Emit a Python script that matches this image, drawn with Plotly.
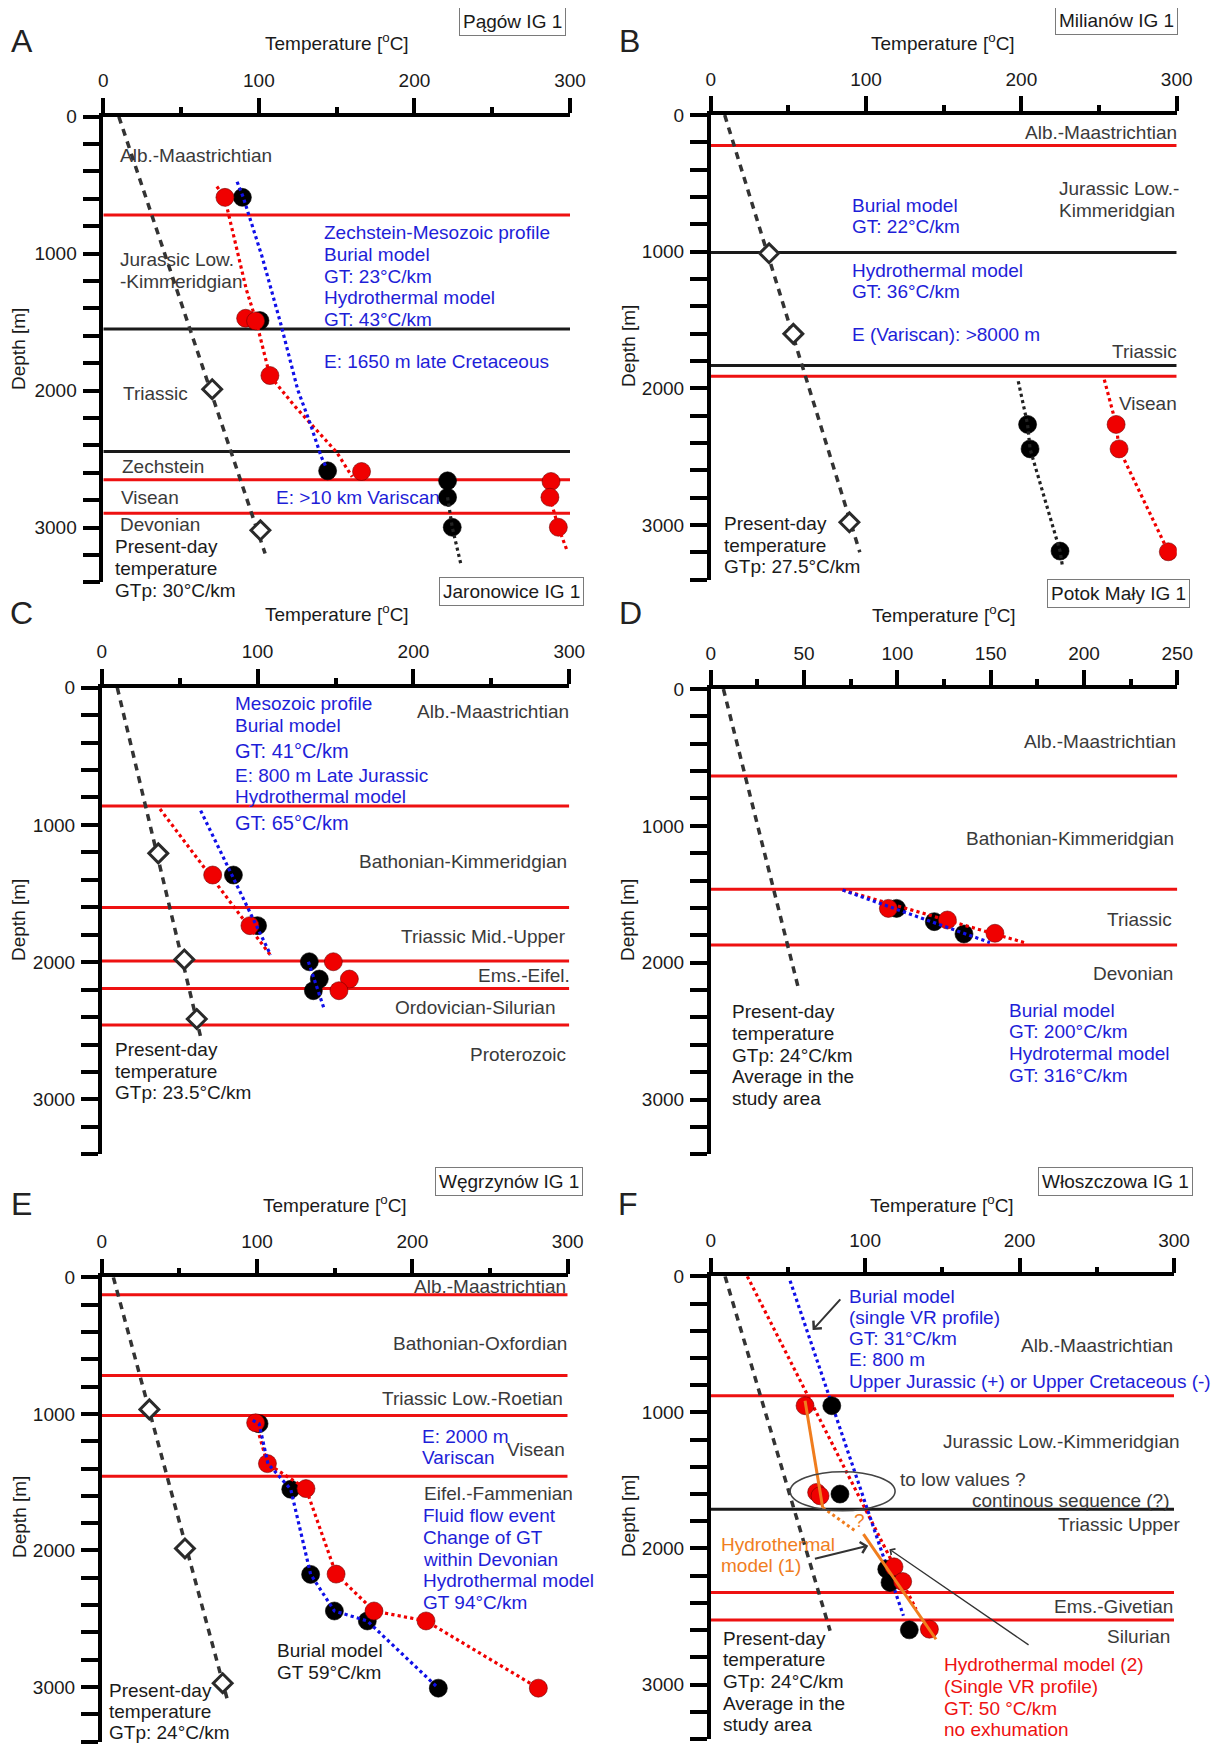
import plotly.graph_objects as go

# Page body has an 8px default margin: the figure is sized/shifted to fill the 1221x1744 window.
OFF = 8
W, H = 1221 - OFF, 1744 - OFF
FONT = "Liberation Sans, Arial, sans-serif"
GREY = "#3a3a3a"
BLACKT = "#1a1a1a"
BLUE = "#1e1ed8"
RED = "#ee1111"
ORANGE = "#f07d1e"
DOTRED = "#f00000"

# ---------------- data (temperature [°C], depth [m]) ----------------
# Panel A - Pągów IG 1
A_pd_T = [10, 104];  A_pd_D = [0, 3190]
A_diam_T = [70, 101]; A_diam_D = [1990, 3020]
A_red_bounds = [718, 2652, 2895]
A_black_bounds = [1550, 2445]
A_bur_T = [89.4, 100.7, 144.2, 221.3, 221.3, 224.3]
A_bur_D = [589, 1489, 2586, 2659, 2779, 2998]
A_hyd_T = [78.2, 91.5, 97.9, 107.1, 166, 287.8, 287.1, 292.5]
A_hyd_D = [589, 1472, 1491, 1890, 2591, 2664, 2779, 2998]
A_blue_T = [86, 90, 102, 114, 125, 133, 140, 143]
A_blue_D = [475, 590, 1020, 1510, 1995, 2240, 2480, 2555]
A_redl_T = [73, 78, 92, 98, 107, 122, 135, 150, 160]
A_redl_D = [510, 590, 1265, 1480, 1890, 2100, 2263, 2450, 2630]
A_deepk_T = [221.3, 224.3, 229.7]; A_deepk_D = [2779, 2998, 3260]
A_deepr_T = [287.1, 292.5, 298];   A_deepr_D = [2779, 2998, 3165]

# Panel B - Milianów IG 1
B_pd_T = [9, 96]; B_pd_D = [0, 3200]
B_diam_T = [37.6, 53.2, 89.3]; B_diam_D = [1012, 1602, 2981]
B_red_bounds = [223, 1913]
B_black_bounds = [1007, 1833]
B_bur_T = [204, 205.6, 224.9]; B_bur_D = [2265, 2444, 3192]
B_hyd_T = [261, 262.9, 294.6]; B_hyd_D = [2265, 2444, 3197]
B_kl_T = [198, 204, 205.6, 224.9, 226.6]; B_kl_D = [1949, 2265, 2444, 3192, 3313]
B_rl_T = [253.4, 261, 262.9, 294.6]; B_rl_D = [1937, 2265, 2444, 3197]

# Panel C - Jaronowice IG 1
C_pd_T = [10, 64]; C_pd_D = [0, 2570]
C_diam_T = [36.3, 53, 61]; C_diam_D = [1207, 1980, 2414]
C_red_bounds = [862, 1601, 1992, 2191, 2458]
C_bur_T = [84.5, 100, 133.2, 139.6, 135.8]; C_bur_D = [1365, 1734, 1997, 2123, 2208]
C_hyd_T = [71.2, 95.1, 148.6, 158.9, 152.2]; C_hyd_D = [1365, 1734, 1997, 2123, 2208]
C_blue1_T = [63.5, 108.4]; C_blue1_D = [896, 1948]
C_blue2_T = [132.6, 142.6]; C_blue2_D = [1997, 2337]
C_redl_T = [37.4, 109]; C_redl_D = [884, 1960]

# Panel D - Potok Mały IG 1
D_pd_T = [6.8, 47]; D_pd_D = [0, 2187]
D_red_bounds = [636, 1464, 1870]
D_bur_T = [99.6, 119.8, 135.7]; D_bur_D = [1603, 1700, 1790]
D_hyd_T = [95.2, 126.8, 152.3]; D_hyd_D = [1603, 1688, 1785]
D_blue_T = [70.7, 149.6]; D_blue_D = [1469, 1853]
D_redl_T = [70.7, 169.3]; D_redl_D = [1469, 1858]

# Panel E - Węgrzynów IG 1
E_pd_T = [7.5, 81.5]; E_pd_D = [0, 3118]
E_diam_T = [30.7, 53.6, 77.9]; E_diam_D = [967, 1985, 2972]
E_red_bounds = [127, 719, 1011, 1457]
E_bur_T = [101.3, 121.7, 134.5, 149.8, 171, 216.7]
E_bur_D = [1072, 1552, 2175, 2443, 2516, 3008]
E_hyd_T = [99.1, 106.7, 131.5, 150.9, 175.3, 208.8, 281.1]
E_hyd_D = [1065, 1364, 1547, 2173, 2443, 2516, 3008]
E_blue_T = [97.2, 101.3, 107, 121.7, 134.5, 149.8, 171, 216.7]
E_blue_D = [1048, 1072, 1364, 1552, 2175, 2443, 2516, 3008]

# Panel F - Włoszczowa IG 1
F_pd_T = [9.3, 77.3]; F_pd_D = [0, 2605]
F_red_bounds = [877, 2324, 2525]
F_black_bounds = [1711]
F_bur_T = [78.4, 83.7, 114, 116.1, 128.6]; F_bur_D = [951, 1600, 2152, 2250, 2598]
F_hyd_T = [61.1, 68.6, 70.8, 118.7, 124.3, 141.6]; F_hyd_D = [951, 1588, 1613, 2135, 2243, 2593]
F_blue_T = [51.4, 124.8]; F_blue_D = [32, 2495]
F_redl_T = [23.7, 133]; F_redl_D = [0, 2446]
F_or1_T = [61.1, 72.5]; F_or1_D = [914, 1699]
F_ordot_T = [72.5, 93.5]; F_ordot_D = [1699, 1870]
F_or2_T = [98.9, 145.9]; F_or2_D = [1895, 2667]
F_ellipse_T = [51.4, 119.4]; F_ellipse_D = [1436, 1723]

# ---------------- geometry (window pixels) ----------------
GEOM = {
    1: (103.3, 570.0, 116.7, 582.3, 300),
    2: (710.7, 1176.7, 115.0, 579.5, 300),
    3: (101.7, 569.3, 687.7, 1154.3, 300),
    4: (710.7, 1177.3, 689.0, 1154.3, 250),
    5: (101.7, 567.7, 1277.3, 1741.7, 300),
    6: (710.7, 1174.0, 1276.3, 1739.0, 300),
}
DMAX = 3400


def px(x):
    return (x - OFF) / W


def py(y):
    return 1 - (y - OFF) / H


fig = go.Figure()
layout = dict(width=W, height=H, margin=dict(l=0, r=0, t=0, b=0, pad=0, autoexpand=False),
              paper_bgcolor="white", plot_bgcolor="white", showlegend=False)

for i, (xl, xr, yt, yb, tmax) in GEOM.items():
    sfx = "" if i == 1 else str(i)
    major = 50 if tmax == 250 else 100
    layout["xaxis" + sfx] = dict(
        domain=[px(xl), px(xr)], range=[0, tmax], side="top", anchor="y" + sfx,
        showline=True, linecolor="black", linewidth=3.5,
        ticks="outside", ticklen=15, tickwidth=3.5, tickcolor="black",
        tick0=0, dtick=major, ticklabelstandoff=3,
        minor=dict(dtick=major / 2, ticklen=6, tickwidth=3.5, tickcolor="black",
                   ticks="outside", showgrid=False),
        showgrid=False, zeroline=False, fixedrange=True, automargin=False,
        tickfont=dict(family=FONT, size=19, color=BLACKT))
    layout["yaxis" + sfx] = dict(
        domain=[py(yb), py(yt)], range=[DMAX, 0], anchor="x" + sfx,
        showline=True, linecolor="black", linewidth=3.5,
        ticks="outside", ticklen=17, tickwidth=3.5, tickcolor="black",
        tick0=0, dtick=1000, ticklabelstandoff=2,
        minor=dict(dtick=200, ticklen=17, tickwidth=3.5, tickcolor="black",
                   ticks="outside", showgrid=False),
        showgrid=False, zeroline=False, fixedrange=True, automargin=False,
        tickfont=dict(family=FONT, size=19, color=BLACKT))


def ax(i):
    return ("x" if i == 1 else "x%d" % i), ("y" if i == 1 else "y%d" % i)


def add_line(i, T, D, color, width, dash="solid"):
    xa, ya = ax(i)
    fig.add_trace(go.Scatter(x=T, y=D, xaxis=xa, yaxis=ya, mode="lines",
                             line=dict(color=color, width=width, dash=dash),
                             hoverinfo="skip", showlegend=False))


def add_bounds(i, depths, color):
    tmax = GEOM[i][4]
    for d in depths:
        add_line(i, [0, tmax], [d, d], color, 3)


def add_dots(i, T, D, color):
    xa, ya = ax(i)
    fig.add_trace(go.Scatter(x=T, y=D, xaxis=xa, yaxis=ya, mode="markers",
                             marker=dict(size=18, color=color,
                                         line=dict(width=0.6, color="#700000" if color != "black" else "black")),
                             hoverinfo="skip", showlegend=False))


def add_pd(i, T, D, dT=None, dD=None):
    add_line(i, T, D, "#333333", 3.5, "7px,6px")
    if dT:
        xa, ya = ax(i)
        fig.add_trace(go.Scatter(x=dT, y=dD, xaxis=xa, yaxis=ya, mode="markers",
                                 marker=dict(symbol="diamond", size=14.5, color="white",
                                             line=dict(width=3, color="#2a2a2a")),
                                 hoverinfo="skip", showlegend=False))


# Panel A
add_bounds(1, A_red_bounds, RED)
add_bounds(1, A_black_bounds, "#1a1a1a")
add_pd(1, A_pd_T, A_pd_D, A_diam_T, A_diam_D)
add_dots(1, A_bur_T, A_bur_D, "black")
add_dots(1, A_hyd_T, A_hyd_D, DOTRED)
add_line(1, A_redl_T, A_redl_D, DOTRED, 3.2, "dot")
add_line(1, A_blue_T, A_blue_D, "#1010e8", 3.2, "dot")
add_line(1, A_deepk_T, A_deepk_D, "#222222", 3.2, "dot")
add_line(1, A_deepr_T, A_deepr_D, DOTRED, 3.2, "dot")

# Panel B
add_bounds(2, B_red_bounds, RED)
add_bounds(2, B_black_bounds, "#1a1a1a")
add_pd(2, B_pd_T, B_pd_D, B_diam_T, B_diam_D)
add_dots(2, B_bur_T, B_bur_D, "black")
add_dots(2, B_hyd_T, B_hyd_D, DOTRED)
add_line(2, B_kl_T, B_kl_D, "#222222", 3.2, "dot")
add_line(2, B_rl_T, B_rl_D, DOTRED, 3.2, "dot")

# Panel C
add_bounds(3, C_red_bounds, RED)
add_pd(3, C_pd_T, C_pd_D, C_diam_T, C_diam_D)
add_dots(3, C_bur_T, C_bur_D, "black")
add_dots(3, C_hyd_T, C_hyd_D, DOTRED)
add_line(3, C_redl_T, C_redl_D, DOTRED, 3.2, "dot")
add_line(3, C_blue1_T, C_blue1_D, "#1010e8", 3.2, "dot")
add_line(3, C_blue2_T, C_blue2_D, "#1010e8", 3.2, "dot")

# Panel D
add_bounds(4, D_red_bounds, RED)
add_pd(4, D_pd_T, D_pd_D)
add_dots(4, D_bur_T, D_bur_D, "black")
add_dots(4, D_hyd_T, D_hyd_D, DOTRED)
add_line(4, D_redl_T, D_redl_D, DOTRED, 3.2, "dot")
add_line(4, D_blue_T, D_blue_D, "#1010e8", 3.2, "dot")

# Panel E
add_bounds(5, E_red_bounds, RED)
add_pd(5, E_pd_T, E_pd_D, E_diam_T, E_diam_D)
add_dots(5, E_bur_T, E_bur_D, "black")
add_dots(5, E_hyd_T, E_hyd_D, DOTRED)
add_line(5, E_hyd_T, E_hyd_D, DOTRED, 3.2, "dot")
add_line(5, E_blue_T, E_blue_D, "#1010e8", 3.2, "dot")

# Panel F
add_bounds(6, F_red_bounds, RED)
add_bounds(6, F_black_bounds, "#1a1a1a")
add_pd(6, F_pd_T, F_pd_D)
add_line(6, F_redl_T, F_redl_D, DOTRED, 3.2, "dot")
add_line(6, F_blue_T, F_blue_D, "#1010e8", 3.2, "dot")
add_dots(6, F_bur_T, F_bur_D, "black")
add_dots(6, F_hyd_T, F_hyd_D, DOTRED)
add_line(6, F_or1_T, F_or1_D, ORANGE, 3)
add_line(6, F_ordot_T, F_ordot_D, ORANGE, 3, "dot")
add_line(6, F_or2_T, F_or2_D, ORANGE, 3)

# ---------------- annotations ----------------
ann = []


def txt(x, y, s, anchor="left", color=GREY, size=19, **kw):
    d = dict(x=px(x), y=py(y), xref="paper", yref="paper", text=s, showarrow=False,
             xanchor=anchor, yanchor="middle", font=dict(family=FONT, size=size, color=color))
    d.update(kw)
    ann.append(d)


def block(x, y0, lines, anchor="left", color=GREY, step=21.7):
    for k, s in enumerate(lines):
        txt(x, y0 + k * step, s, anchor, color)


TEMP = "Temperature [<sup>o</sup>C]"
HEAD = [
    ("A", 22, 41, 337, 42.5, "Pągów IG 1", 512, 21, 349, 19),
    ("B", 629, 41, 943, 42, "Milianów IG 1", 1116, 20.5, 346, 628),
    ("C", 21, 613, 337, 612.5, "Jaronowice IG 1", 511, 591.5, 920, 19),
    ("D", 630, 613, 944, 614, "Potok Mały IG 1", 1118, 593, 920, 628),
    ("E", 21, 1204, 335, 1204, "Węgrzynów IG 1", 509, 1181, 1517, 19),
    ("F", 628, 1204, 942, 1204, "Włoszczowa IG 1", 1115, 1181, 1516, 628),
]
for L, lx, ly, tx, ty, well, wx, wy, dy, dx in HEAD:
    txt(lx, ly, L, "center", "#222222", 32)
    txt(tx, ty, TEMP, "center", BLACKT)
    txt(wx, wy, well, "center", BLACKT, bordercolor="#7a7a7a", borderwidth=1, borderpad=3)
    txt(dx, dy, "Depth [m]", "center", BLACKT, textangle=-90)

# A
txt(117.7, 155, "Alb.-Maastrichtian")
block(117.7, 260, ["Jurassic Low.", "-Kimmeridgian"])
txt(120.7, 393, "Triassic")
txt(120, 466.7, "Zechstein")
txt(119.3, 497.3, "Visean")
txt(117.7, 524.3, "Devonian")
block(113.3, 546.7, ["Present-day", "temperature", "GTp: 30°C/km"], color=BLACKT)
block(321.7, 232.7, ["Zechstein-Mesozoic profile", "Burial model", "GT: 23°C/km",
                     "Hydrothermal model", "GT: 43°C/km"], color=BLUE)
txt(321.7, 361.7, "E: 1650 m late Cretaceous", color=BLUE)
txt(274.3, 497.3, "E: >10 km Variscan", color=BLUE)

# B
txt(1179.3, 132.7, "Alb.-Maastrichtian", "right")
block(1056.7, 188.3, ["Jurassic Low.-", "Kimmeridgian"])
block(850, 205.7, ["Burial model", "GT: 22°C/km"], color=BLUE, step=21)
block(850, 270, ["Hydrothermal model", "GT: 36°C/km"], color=BLUE, step=21)
txt(850, 335, "E (Variscan): >8000 m", color=BLUE)
txt(1178.7, 351.7, "Triassic", "right")
txt(1179.3, 403.3, "Visean", "right")
block(721.7, 523.3, ["Present-day", "temperature", "GTp: 27.5°C/km"], color=BLACKT)

# C
block(233.3, 703.3, ["Mesozoic profile", "Burial model"], color=BLUE)
txt(233.3, 750.7, "GT: 41°C/km", color=BLUE, size=20)
txt(233.3, 775, "E: 800 m Late Jurassic", color=BLUE)
txt(233.3, 796.7, "Hydrothermal model", color=BLUE)
txt(233.3, 823.3, "GT: 65°C/km", color=BLUE, size=20)
txt(571, 711, "Alb.-Maastrichtian", "right")
txt(569, 861, "Bathonian-Kimmeridgian", "right")
txt(568.3, 936, "Triassic Mid.-Upper", "right")
txt(571.7, 975, "Ems.-Eifel.", "right")
txt(558.3, 1007.7, "Ordovician-Silurian", "right")
txt(567.7, 1054.3, "Proterozoic", "right")
block(113.3, 1049.3, ["Present-day", "temperature", "GTp: 23.5°C/km"], color=BLACKT)

# D
txt(1178.3, 741, "Alb.-Maastrichtian", "right")
txt(1176, 838.3, "Bathonian-Kimmeridgian", "right")
txt(1174, 919.3, "Triassic", "right")
txt(1175, 974, "Devonian", "right")
block(730, 1011.7, ["Present-day", "temperature", "GTp: 24°C/km", "Average in the", "study area"],
      color=BLACKT)
block(1006.7, 1010, ["Burial model", "GT: 200°C/km", "Hydrotermal model", "GT: 316°C/km"], color=BLUE)

# E
txt(568.3, 1286.3, "Alb.-Maastrichtian", "right")
txt(569, 1343, "Bathonian-Oxfordian", "right")
txt(565, 1398, "Triassic Low.-Roetian", "right")
block(420, 1436.3, ["E: 2000 m", "Variscan"], color=BLUE, step=21)
txt(566.7, 1449.7, "Visean", "right")
txt(421.7, 1493.3, "Eifel.-Fammenian")
block(420.7, 1515.7, ["Fluid flow event", "Change of GT", "within Devonian",
                      "Hydrothermal model", "GT 94°C/km"], color=BLUE)
block(275, 1650.7, ["Burial model", "GT 59°C/km"], color=BLACKT)
block(107.3, 1690, ["Present-day", "temperature", "GTp: 24°C/km"], color=BLACKT, step=21.3)

# F
block(847.3, 1296, ["Burial model", "(single VR profile)", "GT: 31°C/km", "E: 800 m",
                    "Upper Jurassic (+) or Upper Cretaceous (-)"], color=BLUE, step=21.3)
txt(1175, 1345, "Alb.-Maastrichtian", "right")
txt(1181.7, 1441.3, "Jurassic Low.-Kimmeridgian", "right")
txt(898.3, 1479, "to low values ?")
txt(1172.3, 1500.7, "continous sequence (?)", "right")
txt(1181.7, 1524.7, "Triassic Upper", "right")
block(719.3, 1544, ["Hydrothermal", "model (1)"], color=ORANGE)
txt(859, 1520.7, "?", "center", ORANGE)
txt(1175, 1606.7, "Ems.-Givetian", "right")
txt(1172.3, 1636.7, "Silurian", "right")
block(942.3, 1664.7, ["Hydrothermal model (2)", "(Single VR profile)", "GT: 50 °C/km", "no exhumation"],
      color=RED)
block(720.7, 1638, ["Present-day", "temperature", "GTp: 24°C/km", "Average in the", "study area"],
      color=BLACKT)

# arrows in F (head at x/y, tail at ax/ay; data coordinates)
F_ARROWS = [
    (66, 395, 84.8, 159, 2),
    (102, 1980, 66.5, 2078, 2),
    (115.7, 2005, 206.8, 2716, 1.3),
]
for hx, hy, tx_, ty_, w in F_ARROWS:
    ann.append(dict(x=hx, y=hy, ax=tx_, ay=ty_, xref="x6", yref="y6", axref="x6", ayref="y6",
                    text="", showarrow=True, arrowhead=4, arrowsize=1.1, arrowwidth=w,
                    arrowcolor="#333333", standoff=0, startstandoff=0))

layout["annotations"] = ann
layout["shapes"] = [dict(type="circle", xref="x6", yref="y6",
                         x0=F_ellipse_T[0], x1=F_ellipse_T[1],
                         y0=F_ellipse_D[0], y1=F_ellipse_D[1],
                         line=dict(color="#444444", width=1.6))]

fig.update_layout(**layout)
fig.write_html("out.html")
